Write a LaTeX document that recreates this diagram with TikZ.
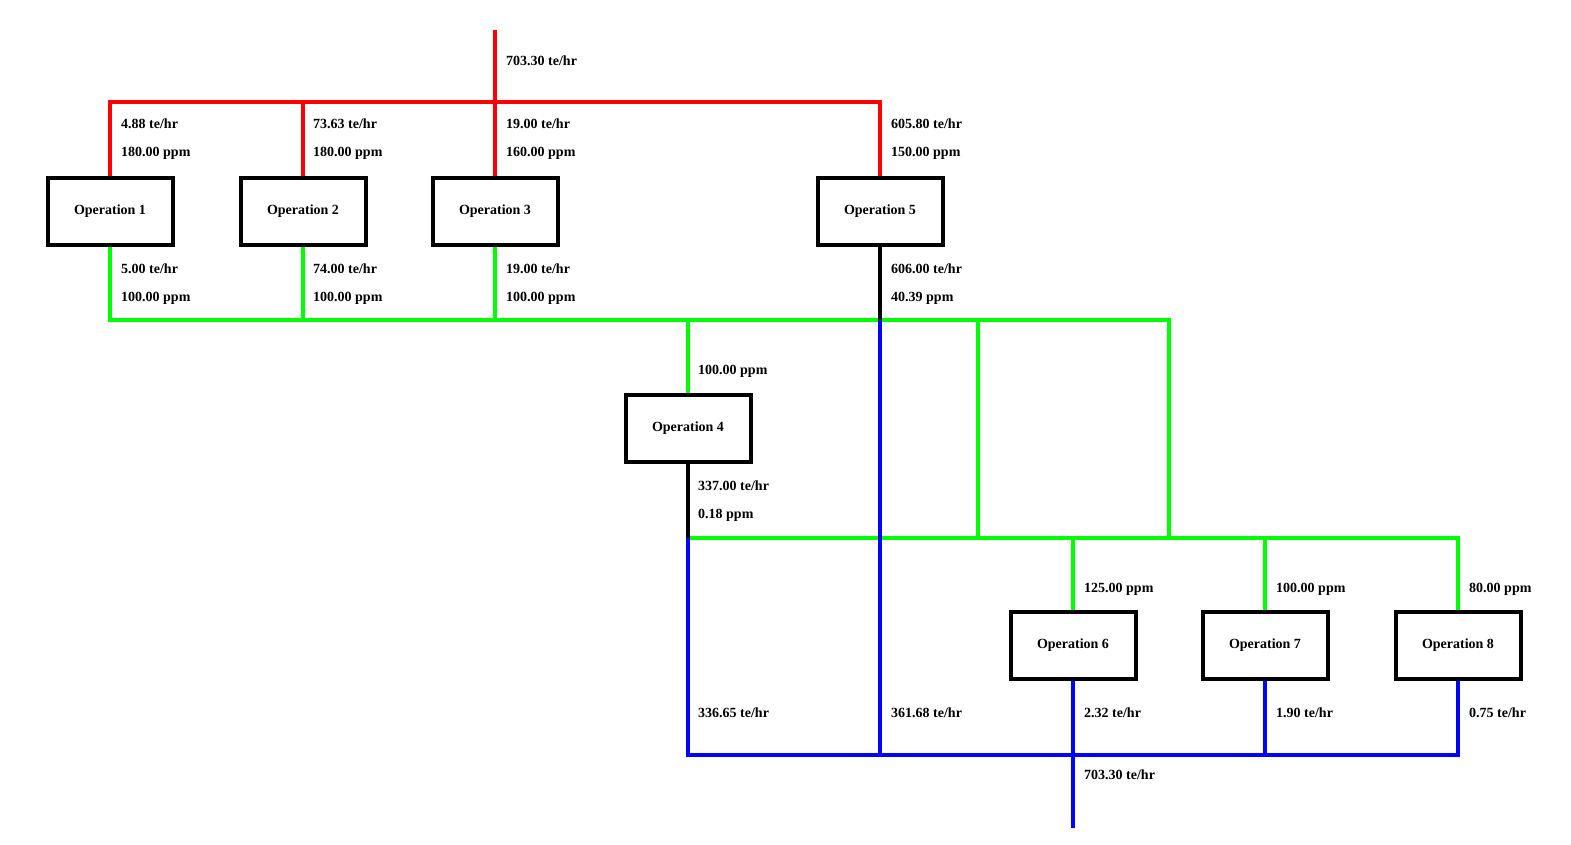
\documentclass[tikz,border=0pt]{standalone}
\usepackage{fontspec}
\setmainfont{Liberation Serif}
\begin{document}
\begin{tikzpicture}[x=1pt,y=-1pt,
  op/.style={draw=black,line width=4pt,minimum width=125pt,minimum height=67pt,inner sep=0pt,font=\bfseries\fontsize{14}{16}\selectfont},
  lbl/.style={anchor=base west,inner sep=0pt,font=\bfseries\fontsize{14}{16}\selectfont},
  pipe/.style={line width=3.5pt},
  rd/.style={pipe,draw={rgb,255:red,255;green,0;blue,0}},
  gn/.style={pipe,draw={rgb,255:red,0;green,255;blue,0}},
  bl/.style={pipe,draw={rgb,255:red,0;green,0;blue,255}},
  bk/.style={pipe,draw=black}]
\useasboundingbox (0,0) rectangle (1571,844);
% nodes
\node[op] (op1) at (110,211) {Operation 1};
\node[op] (op2) at (303,211) {Operation 2};
\node[op] (op3) at (495,211) {Operation 3};
\node[op] (op5) at (880,211) {Operation 5};
\node[op] (op4) at (688,428) {Operation 4};
\node[op] (op6) at (1073,645) {Operation 6};
\node[op] (op7) at (1265,645) {Operation 7};
\node[op] (op8) at (1458,645) {Operation 8};
% coordinates
\coordinate (rtop) at (495,30);
\coordinate (rj) at (495,102);
\coordinate (g1) at (110,320);
\coordinate (g1e) at (1169,320);
\coordinate (g2) at (688,538);
\coordinate (g3) at (978,320);
\coordinate (b1) at (688,755);
\coordinate (bout) at (1073,828);
% red
\draw[rd] (rtop) -- (op3.north);
\draw[rd] (op1.north) -- (op1.north |- rj) -- (op5.north |- rj) -- (op5.north);
\draw[rd] (op2.north) -- (op2.north |- rj);
% green upper
\draw[gn] (op1.south) -- (g1) -- (g1e) -- (g1e |- g2);
\draw[gn] (op2.south) -- (op2.south |- g1);
\draw[gn] (op3.south) -- (op3.south |- g1);
\draw[gn] (op4.north |- g1) -- (op4.north);
\draw[gn] (g3) -- (g3 |- g2);
% green lower
\draw[gn] (g2) -- (op8.north |- g2) -- (op8.north);
\draw[gn] (op6.north |- g2) -- (op6.north);
\draw[gn] (op7.north |- g2) -- (op7.north);
% black
\draw[bk] (op5.south) -- (op5.south |- g1);
\draw[bk] (op4.south) -- (g2);
% blue
\draw[bl] (op5.south |- g1) -- (op5.south |- b1);
\draw[bl] (g2) -- (b1) -- (op8.south |- b1) -- (op8.south);
\draw[bl] (op6.south) -- (bout);
\draw[bl] (op7.south) -- (op7.south |- b1);
% labels
\node[lbl] (l0) at (506,65) {703.30 te/hr};
\node[lbl] (l1a) at (121,128) {4.88 te/hr};
\node[lbl] (l1b) at (121,156) {180.00 ppm};
\node[lbl] (l2a) at (313,128) {73.63 te/hr};
\node[lbl] (l2b) at (313,156) {180.00 ppm};
\node[lbl] (l3a) at (506,128) {19.00 te/hr};
\node[lbl] (l3b) at (506,156) {160.00 ppm};
\node[lbl] (l5a) at (891,128) {605.80 te/hr};
\node[lbl] (l5b) at (891,156) {150.00 ppm};
\node[lbl] (m1a) at (121,273) {5.00 te/hr};
\node[lbl] (m1b) at (121,301) {100.00 ppm};
\node[lbl] (m2a) at (313,273) {74.00 te/hr};
\node[lbl] (m2b) at (313,301) {100.00 ppm};
\node[lbl] (m3a) at (506,273) {19.00 te/hr};
\node[lbl] (m3b) at (506,301) {100.00 ppm};
\node[lbl] (m5a) at (891,273) {606.00 te/hr};
\node[lbl] (m5b) at (891,301) {40.39 ppm};
\node[lbl] (n4) at (698,374) {100.00 ppm};
\node[lbl] (o4a) at (698,490) {337.00 te/hr};
\node[lbl] (o4b) at (698,518) {0.18 ppm};
\node[lbl] (n6) at (1084,592) {125.00 ppm};
\node[lbl] (n7) at (1276,592) {100.00 ppm};
\node[lbl] (n8) at (1469,592) {80.00 ppm};
\node[lbl] (p4) at (698,717) {336.65 te/hr};
\node[lbl] (p5) at (891,717) {361.68 te/hr};
\node[lbl] (p6) at (1084,717) {2.32 te/hr};
\node[lbl] (p7) at (1276,717) {1.90 te/hr};
\node[lbl] (p8) at (1469,717) {0.75 te/hr};
\node[lbl] (pout) at (1084,779) {703.30 te/hr};
\end{tikzpicture}
\end{document}
